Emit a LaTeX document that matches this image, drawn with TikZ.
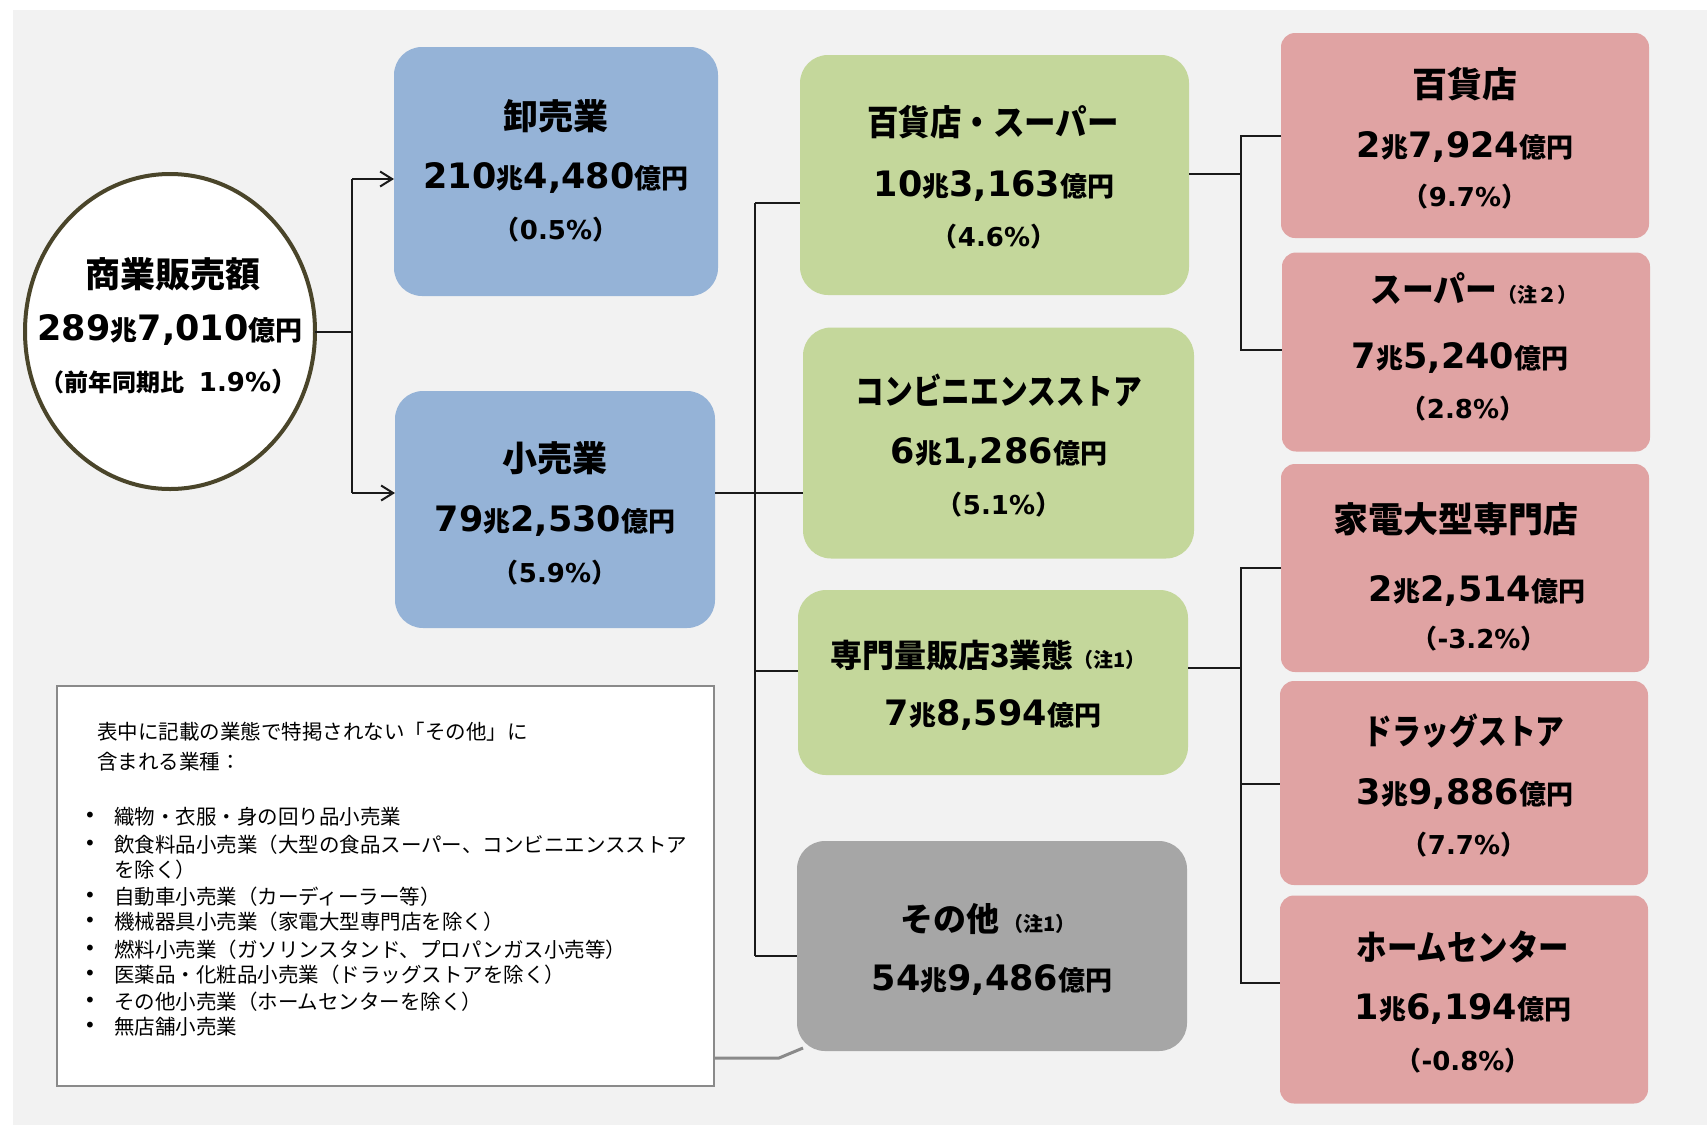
\documentclass[tikz,border=0pt]{standalone}
\usepackage{fontspec}
\usepackage{graphicx}
\usetikzlibrary{arrows.meta,shapes.geometric}
\newfontfamily\jpf{Noto Sans CJK JP}
\newfontfamily\numf{DejaVu Sans}
\definecolor{bgc}{HTML}{F2F2F2}
\definecolor{bluec}{HTML}{95B3D7}
\definecolor{greenc}{HTML}{C4D79B}
\definecolor{pinkc}{HTML}{E0A3A3}
\definecolor{grayc}{HTML}{A6A6A6}
\definecolor{ellc}{HTML}{4A452A}
\definecolor{legc}{HTML}{8A8A8A}
\definecolor{linec}{HTML}{1A1A1A}
\newcommand\HdFont{\jpf\bfseries\fontsize{35}{40}\selectfont}
\newcommand\Amt[2]{{\numf\bfseries\fontsize{35}{40}\selectfont #1}{\jpf\bfseries\fontsize{27}{30}\selectfont 兆}{\numf\bfseries\fontsize{35}{40}\selectfont #2}{\jpf\bfseries\fontsize{27}{30}\selectfont 億円}}
\newcommand\Pct[1]{{\jpf\bfseries\fontsize{26}{30}\selectfont\makebox[14pt][r]{（}}{\numf\bfseries\fontsize{26}{30}\selectfont #1}{\jpf\bfseries\fontsize{26}{30}\selectfont\makebox[14pt][l]{）}}}
\newcommand\Note[1]{{\jpf\bfseries\fontsize{20}{22}\selectfont #1}}
\newcommand\HS[2]{\scalebox{#1}[1]{#2}}
\begin{document}
\begin{tikzpicture}[x=1pt,y=-1pt,
  every node/.style={inner sep=0pt,outer sep=0pt},
  bigbox/.style={rectangle,rounded corners=28pt,draw=none},
  smallbox/.style={rectangle,rounded corners=14pt,draw=none,fill=pinkc},
  hd/.style={font=\HdFont},
  lg/.style={font=\jpf\fontsize{20.5}{26}\selectfont},
  bul/.style={font=\numf\fontsize{20}{24}\selectfont},
  conn/.style={draw=linec,line width=2pt},
  arr/.style={conn,-{Straight Barb[length=12pt,width=15pt,line width=2pt]}},
  gline/.style={draw=legc,line width=3pt}
]
\useasboundingbox (0,0) rectangle (1707,1125);
\fill[bgc] (13,10) rectangle (1707,1125);

% ---- boxes ----
\node[ellipse,draw=ellc,line width=4pt,fill=white,minimum width=290pt,minimum height=315pt] (ell) at (170,331.5) {};
\node[bigbox,fill=bluec,minimum width=324pt,minimum height=249pt] (b1) at (556,171.5) {};
\node[bigbox,fill=bluec,minimum width=320pt,minimum height=237pt] (b2) at (555,509.5) {};
\node[bigbox,fill=greenc,minimum width=389pt,minimum height=240pt] (g1) at (994.5,175) {};
\node[bigbox,fill=greenc,minimum width=391pt,minimum height=231pt] (g2) at (998.5,443) {};
\node[bigbox,fill=greenc,minimum width=390pt,minimum height=185pt] (g3) at (993,682.5) {};
\node[bigbox,fill=grayc,minimum width=390pt,minimum height=210pt] (gr) at (992,946) {};
\node[smallbox,minimum width=368pt,minimum height=205pt] (p1) at (1465,135.5) {};
\node[smallbox,minimum width=368pt,minimum height=199pt] (p2) at (1466,352) {};
\node[smallbox,minimum width=368pt,minimum height=208pt] (p3) at (1465,568) {};
\node[smallbox,minimum width=368pt,minimum height=204pt] (p4) at (1464,783) {};
\node[smallbox,minimum width=368pt,minimum height=208pt] (p5) at (1464,999.5) {};
\node[draw=legc,line width=2.5pt,fill=white,minimum width=657pt,minimum height=400pt] (leg) at (385.5,886) {};

% ---- connectors ----
\coordinate (j0) at (352,331.5);
\coordinate (j1) at (352,179);
\coordinate (j2) at (352,493);
\draw[conn] (ell.east) -- (j0);
\draw[conn] (j1) -- (j2);
\draw[arr] (j1) -- (j1 -| b1.west);
\draw[arr] (j2) -- (j2 -| b2.west);

\coordinate (r0) at (755,203);
\coordinate (r1) at (755,493);
\coordinate (r2) at (755,671);
\coordinate (r3) at (755,956);
\draw[conn] (r0) -- (r3);
\draw[conn] (r1 -| b2.east) -- (r1 -| g2.west);
\draw[conn] (r0) -- (r0 -| g1.west);
\draw[conn] (r2) -- (r2 -| g3.west);
\draw[conn] (r3) -- (r3 -| gr.west);

\coordinate (s0) at (1241,174);
\coordinate (s1) at (1241,136);
\coordinate (s2) at (1241,350);
\draw[conn] (s0 -| g1.east) -- (s0);
\draw[conn] (s1 -| p1.west) -- (s1) -- (s2) -- (s2 -| p2.west);

\coordinate (t0) at (1241,668);
\coordinate (t1) at (1241,568);
\coordinate (t2) at (1241,784);
\coordinate (t3) at (1241,983);
\draw[conn] (t0 -| g3.east) -- (t0);
\draw[conn] (t1 -| p3.west) -- (t1) -- (t3) -- (t3 -| p5.west);
\draw[conn] (t2) -- (t2 -| p4.west);

\coordinate (u1) at (779,1058);
\coordinate (u2) at (803,1048);
\draw[gline] (u1 -| leg.east) -- (u1) -- (u2);

% ---- texts ----
\node[hd] (e1) at (173,274) {商業販売額};
\node (e2) at (170,330) {\Amt{289}{7,010}};
\node (e3) at (168,382) {{\jpf\bfseries\fontsize{24}{28}\selectfont\makebox[14pt][r]{（}前年同期比\makebox[14pt]{　}}{\numf\bfseries\fontsize{26}{30}\selectfont 1.9\%}{\jpf\bfseries\fontsize{26}{30}\selectfont\makebox[14pt][l]{）}}};

\node[hd] (b1a) at (556,116) {卸売業};
\node (b1b) at (556,178) {\Amt{210}{4,480}};
\node (b1c) at (556,230) {\Pct{0.5\%}};

\node[hd] (b2a) at (555,458) {小売業};
\node (b2b) at (555,521) {\Amt{79}{2,530}};
\node (b2c) at (555,573) {\Pct{5.9\%}};

\node[hd] (g1a) at (993,122) {\HS{0.9}{百貨店・スーパー}};
\node (g1b) at (994,186) {\Amt{10}{3,163}};
\node (g1c) at (994,237) {\Pct{4.6\%}};

\node[hd] (g2a) at (999,390) {\HS{0.82}{コンビニエンスストア}};
\node (g2b) at (999,453) {\Amt{6}{1,286}};
\node (g2c) at (999,505) {\Pct{5.1\%}};

\node (g3a) at (988,655) {{\jpf\bfseries\fontsize{32}{36}\selectfont 専門量販店3業態}\Note{（注1）}};
\node (g3b) at (993,715) {\Amt{7}{8,594}};

\node (gra) at (988,919) {{\jpf\bfseries\fontsize{33}{36}\selectfont その他}\hspace{4pt}\Note{（注1）}};
\node (grb) at (992,980) {\Amt{54}{9,486}};

\node[hd] (p1a) at (1465,84) {百貨店};
\node (p1b) at (1465,147) {\Amt{2}{7,924}};
\node (p1c) at (1465,197) {\Pct{9.7\%}};

\node (p2a) at (1474,289) {{\HdFont\HS{0.91}{スーパー}}\Note{（注２）}};
\node (p2b) at (1460,358) {\Amt{7}{5,240}};
\node (p2c) at (1463,409) {\Pct{2.8\%}};

\node[hd] (p3a) at (1456,519) {家電大型専門店};
\node (p3b) at (1477,591) {\Amt{2}{2,514}};
\node (p3c) at (1479,639) {\Pct{-3.2\%}};

\node[hd] (p4a) at (1464,731) {\HS{0.82}{ドラッグストア}};
\node (p4b) at (1465,794) {\Amt{3}{9,886}};
\node (p4c) at (1464,845) {\Pct{7.7\%}};

\node[hd] (p5a) at (1463,947) {\HS{0.87}{ホームセンター}};
\node (p5b) at (1463,1009) {\Amt{1}{6,194}};
\node (p5c) at (1463,1061) {\Pct{-0.8\%}};

% ---- legend text ----
\node[lg,anchor=west] (lh1) at (97,732) {表中に記載の業態で特掲されない「その他」に};
\node[lg,anchor=west] (lh2) at (97,762) {含まれる業種：};
\node[bul] (k1) at (90,817) {•};
\node[lg,anchor=west] (i1) at (114,817) {織物・衣服・身の回り品小売業};
\node[bul] (k2) at (90,845) {•};
\node[lg,anchor=west] (i2) at (114,845) {飲食料品小売業（大型の食品スーパー、コンビニエンスストア};
\node[lg,anchor=west] (i2b) at (114,870) {を除く）};
\node[bul] (k3) at (90,897) {•};
\node[lg,anchor=west] (i3) at (114,897) {自動車小売業（カーディーラー等）};
\node[bul] (k4) at (90,922) {•};
\node[lg,anchor=west] (i4) at (114,922) {機械器具小売業（家電大型専門店を除く）};
\node[bul] (k5) at (90,950) {•};
\node[lg,anchor=west] (i5) at (114,950) {燃料小売業（ガソリンスタンド、プロパンガス小売等）};
\node[bul] (k6) at (90,975) {•};
\node[lg,anchor=west] (i6) at (114,975) {医薬品・化粧品小売業（ドラッグストアを除く）};
\node[bul] (k7) at (90,1002) {•};
\node[lg,anchor=west] (i7) at (114,1002) {その他小売業（ホームセンターを除く）};
\node[bul] (k8) at (90,1027) {•};
\node[lg,anchor=west] (i8) at (114,1027) {無店舗小売業};
\end{tikzpicture}
\end{document}
